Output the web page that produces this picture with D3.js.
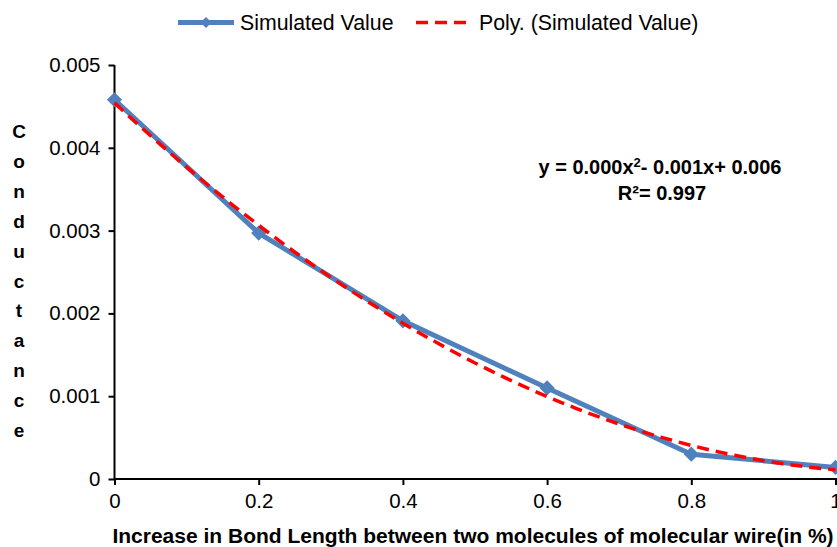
<!DOCTYPE html>
<html>
<head>
<meta charset="utf-8">
<script src="https://cdn.jsdelivr.net/npm/d3@7"></script>
<style>
	body { margin: 0; background: #fff; }
	text { font-family: "Liberation Sans", Arial, sans-serif; fill: #000; }
</style>
</head>
<body>
<div id="chart"></div>
<script>
var bondIncrease = [0, 0.2, 0.4, 0.6, 0.8, 1];
var conductance = [0.00458, 0.00297, 0.00191, 0.00110, 0.00030, 0.00014];
var xTicks = [0, 0.2, 0.4, 0.6, 0.8, 1];
var yTicks = [0, 0.001, 0.002, 0.003, 0.004, 0.005];
var yTitle = "Conductance";

var width = 837;
var height = 547;
var blue = "#4F81BD";

// least squares fit, 2nd order (same as the excel trendline)
function polyFit(xs, ys) {
	var n = xs.length, m = [[0,0,0,0],[0,0,0,0],[0,0,0,0]];
	for (var i = 0; i < n; i++) {
		for (var r = 0; r < 3; r++) {
			for (var c = 0; c < 3; c++) m[r][c] += Math.pow(xs[i], r + c);
			m[r][3] += ys[i] * Math.pow(xs[i], r);
		}
	}
	for (var k = 0; k < 3; k++) {
		for (var r2 = k + 1; r2 < 3; r2++) {
			var f = m[r2][k] / m[k][k];
			for (var c2 = k; c2 < 4; c2++) m[r2][c2] -= f * m[k][c2];
		}
	}
	var b = [0,0,0];
	for (var k2 = 2; k2 >= 0; k2--) {
		var s = m[k2][3];
		for (var j = k2 + 1; j < 3; j++) s -= m[k2][j] * b[j];
		b[k2] = s / m[k2][k2];
	}
	return b;
}
var coef = polyFit(bondIncrease, conductance);

var svg = d3.select('#chart')
	.append('svg')
	.attr('width', width)
	.attr('height', height);

var x = d3.scaleLinear().domain([0, 1]).range([114.5, 835.5]);
var y = d3.scaleLinear().domain([0, 0.005]).range([479, 65]);

var xAxis = svg.append('g')
	.attr('transform', 'translate(0,479)')
	.call(d3.axisBottom(x).tickValues(xTicks).tickSize(6).tickPadding(8)
		.tickFormat(function(d) { return d3.format('')(d); }));
var yAxis = svg.append('g')
	.attr('transform', 'translate(114.5,0)')
	.call(d3.axisLeft(y).tickValues(yTicks).tickSize(6).tickPadding(8)
		.tickFormat(function(d) { return d === 0 ? '0' : d3.format('.3f')(d); }));

[xAxis, yAxis].forEach(function(a) {
	a.select('.domain').attr('stroke', '#000').attr('stroke-width', 2);
	a.selectAll('.tick line').attr('stroke', '#000').attr('stroke-width', 2);
	a.selectAll('.tick text').style('font-size', '20.5px').style('font-family', '"Liberation Sans", Arial, sans-serif').attr('fill', '#000');
});
xAxis.select('.domain').attr('d', 'M114.5,0H837');
yAxis.select('.domain').attr('d', 'M0,479V65');

// trendline
var trendPts = d3.range(0, 1.0001, 0.02).map(function(t) {
	return [t, coef[0] + coef[1] * t + coef[2] * t * t];
});

var line = d3.line()
	.x(function(d) { return x(d[0]); })
	.y(function(d) { return y(d[1]); });

var series = bondIncrease.map(function(v, i) { return [v, conductance[i]]; });

svg.append('path')
	.datum(series)
	.attr('d', line)
	.attr('fill', 'none')
	.attr('stroke', blue)
	.attr('stroke-width', 5)
	.attr('stroke-linejoin', 'round');

var diamond = d3.symbol().type(d3.symbolSquare).size(115);
svg.selectAll('.marker')
	.data(series)
	.enter()
	.append('path')
	.attr('class', 'marker')
	.attr('d', diamond)
	.attr('fill', blue)
	.attr('transform', function(d) { return 'translate(' + x(d[0]) + ',' + y(d[1]) + ') rotate(45)'; });

svg.append('path')
	.datum(trendPts)
	.attr('d', line)
	.attr('fill', 'none')
	.attr('stroke', '#FF0000')
	.attr('stroke-width', 3.5)
	.attr('stroke-dasharray', '12,7');

// legend
var legend = svg.append('g').attr('class', 'legend');
legend.append('line')
	.attr('x1', 178).attr('x2', 234).attr('y1', 22.5).attr('y2', 22.5)
	.attr('stroke', blue).attr('stroke-width', 5);
legend.append('path')
	.attr('d', d3.symbol().type(d3.symbolSquare).size(60))
	.attr('fill', blue)
	.attr('transform', 'translate(206,22.5) rotate(45)');
legend.append('text')
	.attr('x', 240).attr('y', 30)
	.style('font-size', '21.3px')
	.text('Simulated Value');
legend.append('line')
	.attr('x1', 416).attr('x2', 472).attr('y1', 22.5).attr('y2', 22.5)
	.attr('stroke', '#FF0000').attr('stroke-width', 3.5)
	.attr('stroke-dasharray', '12,7');
legend.append('text')
	.attr('x', 479).attr('y', 30)
	.style('font-size', '21.3px')
	.text('Poly. (Simulated Value)');

// equation label
var eq = svg.append('text')
	.attr('x', 660).attr('y', 174)
	.attr('text-anchor', 'middle')
	.style('font-size', '20px')
	.style('font-weight', 'bold');
eq.append('tspan').text('y = 0.000x');
eq.append('tspan').attr('dy', -7).style('font-size', '13px').text('2');
eq.append('tspan').attr('dy', 7).text('- 0.001x+ 0.006');
svg.append('text')
	.attr('x', 662).attr('y', 200)
	.attr('text-anchor', 'middle')
	.style('font-size', '20px')
	.style('font-weight', 'bold')
	.text('R²= 0.997');

// axis titles
svg.append('text')
	.attr('x', 473).attr('y', 543)
	.attr('text-anchor', 'middle')
	.style('font-size', '21px')
	.style('font-weight', 'bold')
	.text('Increase in Bond Length between two molecules of molecular wire(in %)');

svg.append('text')
	.attr('text-anchor', 'middle')
	.style('font-size', '19px')
	.style('font-weight', 'bold')
	.selectAll('tspan')
	.data(yTitle.split(''))
	.enter()
	.append('tspan')
	.attr('x', 19)
	.attr('y', function(d, i) { return 138 + i * 29.9; })
	.text(function(d) { return d; });
</script>
</body>
</html>
